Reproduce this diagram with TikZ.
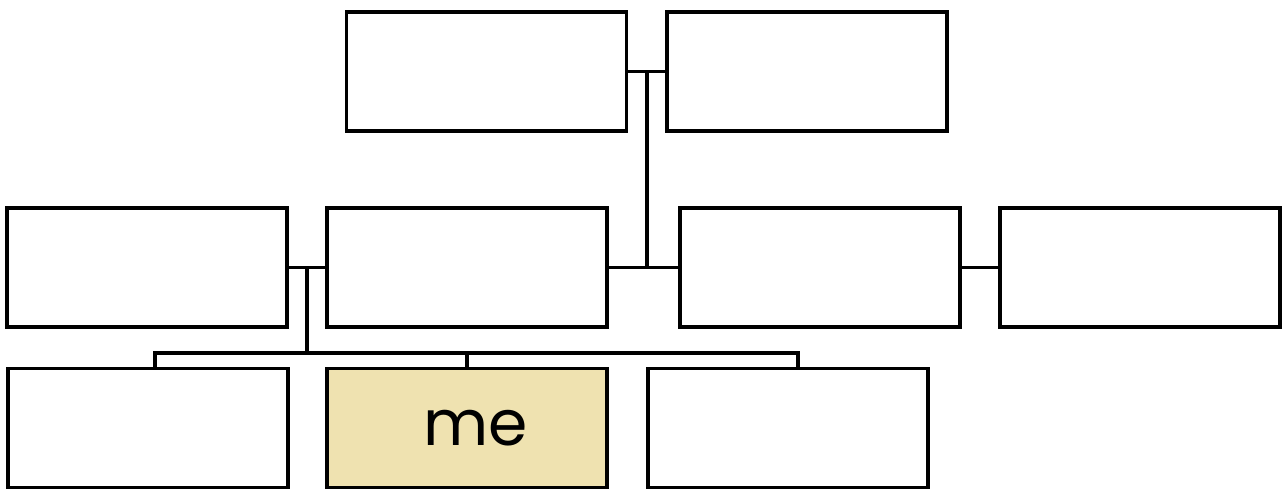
\documentclass[tikz,border=0pt]{standalone}
\usepackage{fontspec}
\newfontfamily\mefont{Poppins}
\usetikzlibrary{positioning, calc}
\definecolor{mebeige}{RGB}{239,226,176}
\tikzstyle{person} = [rectangle, draw, line width=0.035cm, fill=white, minimum width=2.80cm, minimum height=1.19cm, inner sep=0pt]
\tikzstyle{line} = [draw, line width=0.035cm]
\begin{document}
\begin{tikzpicture}
            \useasboundingbox (0,0) rectangle (12.82,4.89);
            % Nodes
            \node [person] (grandpa) at (4.865,4.175) {};
            \node [person] (grandma) at (8.07,4.175) {};
            \node [person] (uncle) at (1.47,2.215) {};
            \node [person] (dad) at (4.67,2.215) {};
            \node [person] (mum) at (8.20,2.215) {};
            \node [person] (aunt) at (11.40,2.215) {};
            \node [person] (sister) at (1.48,0.61) {};
            \node [person, fill=mebeige, font=\mefont\fontsize{18}{22}\selectfont] (me) at (4.67,0.61) {\hspace{0.18cm}me};
            \node [person] (brother) at (7.88,0.61) {};

            % Lines
            \path [line] (grandpa) -- (grandma);
            \path [line] (dad) -- (mum);
            \path [line] (mum) -- (aunt);
            \path [line] (uncle) -- (dad);
            \coordinate (parents) at ($(grandpa.east)!0.5!(grandma.west)$);
            \path [line] (parents) -- (parents |- mum.west);
            \coordinate (couple) at ($(uncle.east)!0.5!(dad.west)$);
            \coordinate (sibl) at (1.55,1.36);
            \coordinate (sibm) at (4.67,1.36);
            \coordinate (sibr) at (7.98,1.36);
            \path [line] (couple) -- (couple |- sibm);
            \path [line] (sibl |- sister.north) -- (sibl) -- (sibr) -- (sibr |- brother.north);
            \path [line] (sibm) -- (me);
        \end{tikzpicture}
\end{document}
